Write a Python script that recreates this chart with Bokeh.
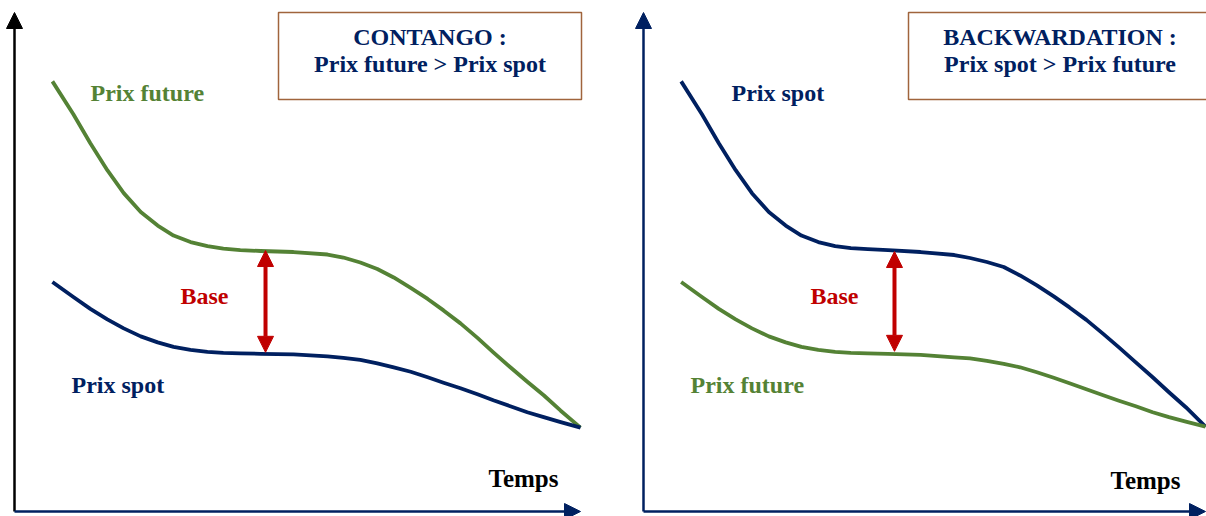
from bokeh.plotting import figure
from bokeh.layouts import row
from bokeh.models import Range1d, Label, Arrow, NormalHead
from bokeh.embed import file_html
from bokeh.resources import INLINE

# ---------------- data (time 0..100, price 0..100) ----------------
time = [6.7, 10.4, 13.4, 16.4, 19.3, 22.3, 25.3, 28.1, 31.1, 34.1, 36.9, 39.9,
        43.5, 49.3, 55.3, 58.1, 61.1, 64.1, 67.0, 70.0, 73.0, 75.8, 78.8, 81.8,
        84.6, 87.6, 90.6, 93.5, 96.5, 100.0]

contango_future = [86.2, 79.6, 73.8, 68.4, 63.8, 60.0, 57.3, 55.3, 54.0, 53.2, 52.7, 52.4,
                   52.2, 52.0, 51.5, 50.9, 49.9, 48.6, 46.9, 44.8, 42.6, 40.3, 37.7, 34.8,
                   31.9, 28.9, 26.0, 23.3, 20.2, 16.8]
contango_spot = [46.0, 43.0, 40.6, 38.5, 36.7, 35.1, 33.9, 33.0, 32.4, 32.0, 31.8, 31.7,
                 31.6, 31.5, 31.1, 30.8, 30.4, 29.7, 28.9, 28.0, 26.9, 25.8, 24.7, 23.5,
                 22.3, 21.1, 19.9, 18.9, 17.9, 16.8]

backwardation_spot = [86.2, 79.6, 73.8, 68.4, 63.8, 60.0, 57.3, 55.3, 54.0, 53.2, 52.8, 52.6,
                      52.4, 52.0, 51.4, 50.8, 50.0, 49.0, 47.3, 45.3, 43.1, 40.9, 38.4, 35.6,
                      32.9, 29.9, 26.9, 23.9, 20.9, 17.0]
backwardation_future = [46.0, 43.0, 40.6, 38.5, 36.7, 35.1, 33.9, 33.0, 32.4, 32.0, 31.8, 31.7,
                        31.6, 31.4, 30.9, 30.7, 30.2, 29.6, 28.9, 27.9, 26.8, 25.7, 24.5, 23.3,
                        22.2, 21.1, 19.9, 18.9, 18.0, 17.0]

# basis arrow (time, price top, price bottom)
contango_basis = [44.35, 52.3, 31.9]
backwardation_basis = [44.66, 52.1, 32.1]

contango_title = ["CONTANGO :", "Prix future > Prix spot"]
backwardation_title = ["BACKWARDATION :", "Prix spot > Prix future"]

# ---------------- styles ----------------
GREEN = "#548235"
NAVY = "#002060"
RED = "#C00000"
BROWN = "#A0643C"
FONT = "Liberation Serif"

H = 516
Y0, SY = 511.0, 4.99   # page y of price 0, px per price unit
TEXT_SHIFT = 8         # baseline correction for text placement


def make_panel(width, page_left, x0_page, sx):
    def tx(px):
        return (px - x0_page) / sx

    def ty(py):
        return (Y0 - py) / SY

    p = figure(width=width, height=H, output_backend="svg", toolbar_location=None,
               x_axis_type=None, y_axis_type=None,
               x_range=Range1d(tx(page_left), tx(page_left + width)),
               y_range=Range1d(ty(H), ty(0)),
               min_border=0, min_border_left=0, min_border_right=0,
               min_border_top=0, min_border_bottom=0)
    p.grid.visible = False
    p.outline_line_color = None
    p.background_fill_color = "white"
    p.border_fill_color = "white"
    return p, tx, ty


def label(p, tx, ty, px, py, text, color, size="24px", align="left"):
    p.add_layout(Label(x=tx(px), y=ty(py - TEXT_SHIFT), text=text, text_color=color,
                       text_font=FONT, text_font_style="bold", text_font_size=size,
                       text_align=align, text_baseline="alphabetic"))


def axes(p, ycolor, xcolor):
    p.add_layout(Arrow(x_start=0, y_start=0, x_end=0, y_end=100,
                       line_color=ycolor, line_width=2.5,
                       end=NormalHead(size=16, fill_color=ycolor, line_color=ycolor, line_width=1)))
    p.add_layout(Arrow(x_start=0, y_start=0, x_end=100, y_end=0,
                       line_color=xcolor, line_width=2.5,
                       end=NormalHead(size=16, fill_color=xcolor, line_color=xcolor, line_width=1)))


def basis_arrow(p, b):
    p.add_layout(Arrow(x_start=b[0], y_start=b[2], x_end=b[0], y_end=b[1],
                       line_color=RED, line_width=4,
                       start=NormalHead(size=16, fill_color=RED, line_color=RED, line_width=1),
                       end=NormalHead(size=16, fill_color=RED, line_color=RED, line_width=1)))


# ---------------- left panel: contango ----------------
p1, tx1, ty1 = make_panel(620, 0, 14, 5.66)
axes(p1, "#000000", NAVY)
p1.line(time, contango_future, line_color=GREEN, line_width=3.8, line_join="round")
p1.line(time, contango_spot, line_color=NAVY, line_width=3.8, line_join="round")
basis_arrow(p1, contango_basis)
p1.quad(left=tx1(278), right=tx1(581), top=ty1(12), bottom=ty1(99),
        fill_color=None, line_color=BROWN, line_width=1.5)
label(p1, tx1, ty1, 429.5, 44, contango_title[0], NAVY, "24px", "center")
label(p1, tx1, ty1, 429.5, 71, contango_title[1], NAVY, "24px", "center")
label(p1, tx1, ty1, 90, 100, "Prix future", GREEN)
label(p1, tx1, ty1, 71, 392, "Prix spot", NAVY)
label(p1, tx1, ty1, 180, 303, "Base", RED)
label(p1, tx1, ty1, 488, 486, "Temps", "#000000", "25px")

# ---------------- right panel: backwardation ----------------
p2, tx2, ty2 = make_panel(586, 620, 643, 5.62)
axes(p2, NAVY, NAVY)
p2.line(time, backwardation_spot, line_color=NAVY, line_width=3.8, line_join="round")
p2.line(time, backwardation_future, line_color=GREEN, line_width=3.8, line_join="round")
basis_arrow(p2, backwardation_basis)
p2.quad(left=tx2(908), right=tx2(1211), top=ty2(12), bottom=ty2(99),
        fill_color=None, line_color=BROWN, line_width=1.5)
label(p2, tx2, ty2, 1059.5, 44, backwardation_title[0], NAVY, "24px", "center")
label(p2, tx2, ty2, 1059.5, 71, backwardation_title[1], NAVY, "24px", "center")
label(p2, tx2, ty2, 731, 100, "Prix spot", NAVY)
label(p2, tx2, ty2, 690, 392, "Prix future", GREEN)
label(p2, tx2, ty2, 810, 303, "Base", RED)
label(p2, tx2, ty2, 1110, 488, "Temps", "#000000", "25px")

layout = row(p1, p2)
open("out.html", "w").write(file_html(layout, INLINE))
